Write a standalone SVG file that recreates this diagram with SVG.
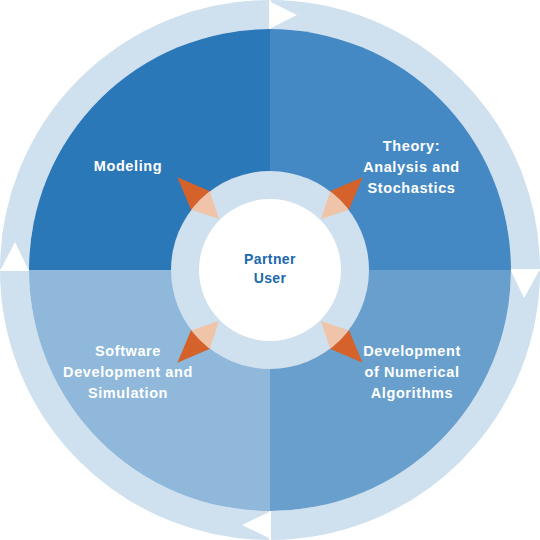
<svg xmlns="http://www.w3.org/2000/svg" width="540" height="540" viewBox="0 0 540 540">
  <style>
    .lbl { font-family: "Liberation Sans", Arial, sans-serif; font-weight: bold; font-size: 14.5px; fill: #ffffff; text-anchor: middle; letter-spacing: 0.6px; }
    .ctr { font-family: "Liberation Sans", Arial, sans-serif; font-weight: bold; font-size: 14px; fill: #1d69ad; text-anchor: middle; letter-spacing: 0.4px; }
    .dark { fill: #d4622a; }
    .peach { fill: #f0c4a8; }
    .ringc { fill: #cfe0ef; }
  </style>
  <defs>
    <clipPath id="annulus" clipPathUnits="userSpaceOnUse">
      <circle cx="0" cy="0" r="99"/>
    </clipPath>
    <polygon id="darkTri" points="94,-15 131,0 94,15"/>
    <polygon id="peachTri" points="72,0 106,-17 106,17"/>
  </defs>
  <rect x="0" y="0" width="540" height="540" fill="#ffffff"/>

  <!-- outer cycle ring -->
  <g id="cycle-ring">
    <circle cx="270" cy="270" r="255.5" fill="none" stroke="#cfe0ef" stroke-width="29"/>
    <g stroke="#ffffff" stroke-width="2">
      <line x1="270" y1="0" x2="270" y2="29"/>
      <line x1="511" y1="270" x2="540" y2="270"/>
      <line x1="270" y1="511" x2="270" y2="540"/>
      <line x1="0" y1="270" x2="29" y2="270"/>
    </g>
  </g>

  <!-- quadrants -->
  <g id="modeling">
    <path d="M270,270 L29,270 A241,241 0 0 1 270,29 Z" fill="#2b78b8"/>
    <text class="lbl" x="128" y="171">Modeling</text>
  </g>
  <g id="theory">
    <path d="M270,270 L270,29 A241,241 0 0 1 511,270 Z" fill="#4589c4"/>
    <text class="lbl" x="411.5" y="150.5">Theory:</text>
    <text class="lbl" x="411.5" y="171.5">Analysis and</text>
    <text class="lbl" x="411.5" y="192.5">Stochastics</text>
  </g>
  <g id="numerical">
    <path d="M270,270 L511,270 A241,241 0 0 1 270,511 Z" fill="#699fcc"/>
    <text class="lbl" x="412" y="355.5">Development</text>
    <text class="lbl" x="412" y="376.5">of Numerical</text>
    <text class="lbl" x="412" y="397.5">Algorithms</text>
  </g>
  <g id="software">
    <path d="M270,270 L270,511 A241,241 0 0 1 29,270 Z" fill="#8fb8db"/>
    <text class="lbl" x="128" y="355.5">Software</text>
    <text class="lbl" x="128" y="376.5">Development and</text>
    <text class="lbl" x="128" y="397.5">Simulation</text>
  </g>

  <!-- cycle direction arrowheads -->
  <g id="connectors" fill="#ffffff">
    <polygon points="271,2 271,28 297,15"/>
    <polygon points="511,271 539,271 524,298"/>
    <polygon points="269,512 269,538 242,525"/>
    <polygon points="1,269 28,269 15,242"/>
    <g transform="translate(270,270)">
      <use href="#darkTri" class="dark" transform="rotate(-135)"/>
      <use href="#darkTri" class="dark" transform="rotate(-45)"/>
      <use href="#darkTri" class="dark" transform="rotate(45)"/>
      <use href="#darkTri" class="dark" transform="rotate(135)"/>
    </g>
  </g>

  <!-- centre -->
  <g id="partner-user">
    <circle cx="270" cy="270" r="99" class="ringc"/>
    <circle cx="270" cy="270" r="71" fill="#ffffff"/>
    <g transform="translate(270,270)">
      <g clip-path="url(#annulus)">
        <use href="#peachTri" class="peach" transform="rotate(-135)"/>
        <use href="#peachTri" class="peach" transform="rotate(-45)"/>
        <use href="#peachTri" class="peach" transform="rotate(45)"/>
        <use href="#peachTri" class="peach" transform="rotate(135)"/>
      </g>
    </g>
    <text class="ctr" x="270" y="264">Partner</text>
    <text class="ctr" x="270" y="283">User</text>
  </g>
</svg>
